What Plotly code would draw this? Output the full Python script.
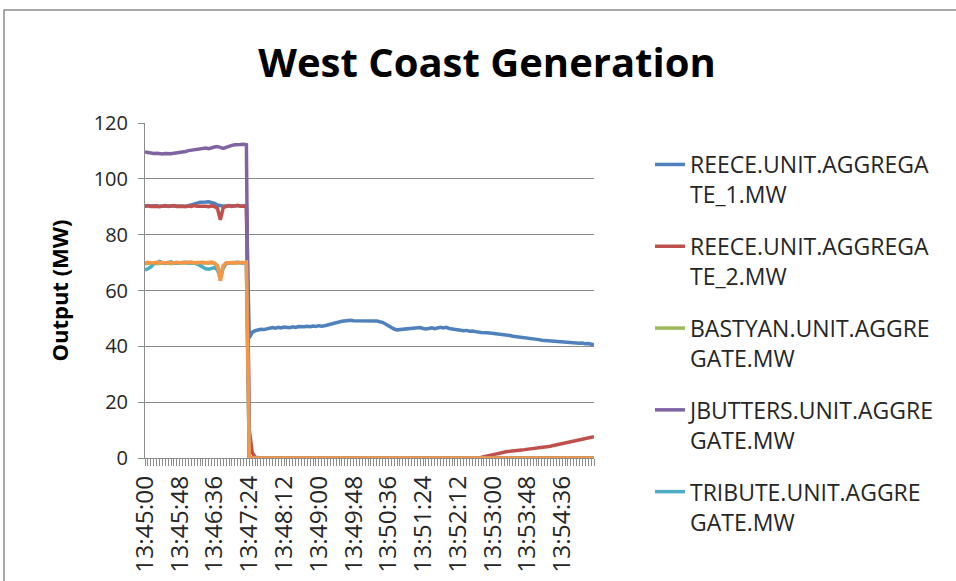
import pandas as pd
import plotly.graph_objects as go

# ---- data (4-second samples from 13:45:00) ----
START = "2013-01-01 13:45:00"
N_POINTS = 156
TIMES = pd.date_range(START, periods=N_POINTS, freq="4s")

TICK_LABELS = ["13:45:00", "13:45:48", "13:46:36", "13:47:24", "13:48:12", "13:49:00",
               "13:49:48", "13:50:36", "13:51:24", "13:52:12", "13:53:00", "13:53:48", "13:54:36"]

REECE_1 = [
    90.3, 90.4, 90.2, 90.3, 90.4, 90.2, 90.3, 90.4, 90.2, 90.3, 90.3, 90.2,
    90.4, 90.3, 90.2, 90.4, 90.6, 90.9, 91.3, 91.6, 91.8, 91.7, 91.8, 91.6,
    91.2, 90.6, 90.3, 90.2, 90.3, 90.4, 90.2, 90.3, 90.4, 90.2, 90.3, 90.4,
    43.0, 45.0, 45.6, 45.9, 46.1, 46.0, 46.4, 46.5, 46.7, 46.5, 46.8, 46.6,
    46.9, 46.7, 46.7, 47.0, 46.8, 47.1, 46.9, 47.0, 47.2, 47.0, 47.3, 47.1,
    47.4, 47.2, 47.4, 47.6, 47.9, 48.2, 48.4, 48.7, 49.0, 49.2, 49.1, 49.3,
    49.2, 49.2, 49.3, 49.1, 49.3, 49.2, 49.2, 49.0, 49.1, 48.8, 48.6, 48.0,
    47.3, 46.8, 46.2, 45.9, 46.0, 46.3, 46.2, 46.5, 46.6, 46.4, 46.7, 46.7,
    46.4, 46.2, 46.4, 46.6, 46.3, 46.5, 46.8, 46.6, 46.8, 46.4, 46.2, 46.0,
    46.1, 45.8, 45.6, 45.7, 45.4, 45.5, 45.2, 45.1, 45.0, 45.1, 44.9, 44.8,
    44.7, 44.6, 44.5, 44.4, 44.2, 44.0, 43.9, 43.6, 43.5, 43.3, 43.2, 43.0,
    42.9, 42.7, 42.6, 42.5, 42.4, 42.2, 42.1, 42.0, 41.9, 41.8, 41.7, 41.6,
    41.5, 41.6, 41.4, 41.5, 41.3, 41.3, 41.1, 41.2, 40.9, 41.0, 40.8, 40.6,
]

REECE_2 = [
    90.2, 90.4, 90.1, 90.3, 90.2, 90.0, 90.3, 90.4, 90.1, 90.2, 90.4, 90.1,
    90.3, 90.2, 90.0, 90.3, 90.1, 90.4, 90.2, 90.3, 90.1, 90.2, 90.0, 90.3,
    90.1, 89.4, 85.3, 89.6, 90.2, 90.4, 90.1, 90.3, 90.5, 90.2, 90.4, 90.3,
    10.0, 2.0, 0.3, 0, 0, 0, 0, 0, 0, 0, 0, 0,
    0, 0, 0, 0, 0, 0, 0, 0, 0, 0, 0, 0,
    0, 0, 0, 0, 0, 0, 0, 0, 0, 0, 0, 0,
    0, 0, 0, 0, 0, 0, 0, 0, 0, 0, 0, 0,
    0, 0, 0, 0, 0, 0, 0, 0, 0, 0, 0, 0,
    0, 0, 0, 0, 0, 0, 0, 0, 0, 0, 0, 0,
    0, 0, 0, 0, 0, 0, 0, 0, 0.2, 0.5, 0.8, 1.0,
    1.2, 1.4, 1.6, 1.9, 2.1, 2.3, 2.4, 2.6, 2.7, 2.8, 2.9, 3.0,
    3.1, 3.2, 3.3, 3.4, 3.5, 3.6, 3.8, 4.0, 4.2, 4.5, 4.7, 4.9,
    5.1, 5.3, 5.5, 5.7, 5.9, 6.2, 6.5, 6.8, 7.0, 7.2, 7.4, 7.6,
]

BASTYAN = [
    69.6, 69.8, 69.7, 69.9, 69.6, 69.8, 69.7, 69.9, 69.8, 69.6, 69.8, 69.7,
    69.8, 69.9, 69.7, 69.8, 69.9, 69.7, 69.8, 69.6, 69.9, 69.7, 69.8, 69.9,
    69.7, 68.8, 65.5, 68.9, 69.8, 69.9, 69.7, 69.8, 69.9, 69.8, 69.7, 69.9,
    0, 0, 0, 0, 0, 0, 0, 0, 0, 0, 0, 0,
    0, 0, 0, 0, 0, 0, 0, 0, 0, 0, 0, 0,
    0, 0, 0, 0, 0, 0, 0, 0, 0, 0, 0, 0,
    0, 0, 0, 0, 0, 0, 0, 0, 0, 0, 0, 0,
    0, 0, 0, 0, 0, 0, 0, 0, 0, 0, 0, 0,
    0, 0, 0, 0, 0, 0, 0, 0, 0, 0, 0, 0,
    0, 0, 0, 0, 0, 0, 0, 0, 0, 0, 0, 0,
    0, 0, 0, 0, 0, 0, 0, 0, 0, 0, 0, 0,
    0, 0, 0, 0, 0, 0, 0, 0, 0, 0, 0, 0,
    0, 0, 0, 0, 0, 0, 0, 0, 0, 0, 0, 0,
]

JBUTTERS = [
    109.6, 109.4, 109.3, 109.1, 109.2, 109.0, 108.9, 109.1, 108.9, 109.0, 109.2, 109.3,
    109.5, 109.4, 109.8, 110.1, 110.3, 110.2, 110.6, 110.8, 110.9, 111.0, 110.8, 111.2,
    111.4, 111.6, 111.2, 110.9, 111.3, 111.8, 112.0, 112.2, 112.1, 112.3, 112.4, 112.2,
    0, 0, 0, 0, 0, 0, 0, 0, 0, 0, 0, 0,
    0, 0, 0, 0, 0, 0, 0, 0, 0, 0, 0, 0,
    0, 0, 0, 0, 0, 0, 0, 0, 0, 0, 0, 0,
    0, 0, 0, 0, 0, 0, 0, 0, 0, 0, 0, 0,
    0, 0, 0, 0, 0, 0, 0, 0, 0, 0, 0, 0,
    0, 0, 0, 0, 0, 0, 0, 0, 0, 0, 0, 0,
    0, 0, 0, 0, 0, 0, 0, 0, 0, 0, 0, 0,
    0, 0, 0, 0, 0, 0, 0, 0, 0, 0, 0, 0,
    0, 0, 0, 0, 0, 0, 0, 0, 0, 0, 0, 0,
    0, 0, 0, 0, 0, 0, 0, 0, 0, 0, 0, 0,
]

TRIBUTE = [
    67.3, 67.7, 68.4, 69.5, 69.8, 70.4, 69.9, 69.7, 70.0, 70.3, 69.8, 69.9,
    70.0, 69.8, 70.1, 69.9, 70.0, 69.8, 69.5, 69.0, 68.2, 67.8, 67.6, 67.8,
    68.2, 67.4, 64.6, 67.9, 69.6, 69.9, 70.0, 69.8, 70.1, 69.9, 70.0, 69.8,
    0, 0, 0, 0, 0, 0, 0, 0, 0, 0, 0, 0,
    0, 0, 0, 0, 0, 0, 0, 0, 0, 0, 0, 0,
    0, 0, 0, 0, 0, 0, 0, 0, 0, 0, 0, 0,
    0, 0, 0, 0, 0, 0, 0, 0, 0, 0, 0, 0,
    0, 0, 0, 0, 0, 0, 0, 0, 0, 0, 0, 0,
    0, 0, 0, 0, 0, 0, 0, 0, 0, 0, 0, 0,
    0, 0, 0, 0, 0, 0, 0, 0, 0, 0, 0, 0,
    0, 0, 0, 0, 0, 0, 0, 0, 0, 0, 0, 0,
    0, 0, 0, 0, 0, 0, 0, 0, 0, 0, 0, 0,
    0, 0, 0, 0, 0, 0, 0, 0, 0, 0, 0, 0,
]

# sixth series (orange) whose legend entry is cut off in the original
SERIES_6 = [
    69.8, 70.1, 69.9, 70.0, 69.8, 70.2, 70.0, 69.9, 70.1, 69.8, 70.0, 70.1,
    69.9, 70.0, 69.8, 70.1, 70.2, 69.9, 70.0, 69.8, 70.1, 69.9, 70.0, 70.2,
    69.8, 68.9, 63.4, 68.8, 69.9, 70.1, 70.0, 69.8, 70.1, 70.0, 69.9, 70.2,
    0, 0, 0, 0, 0, 0, 0, 0, 0, 0, 0, 0,
    0, 0, 0, 0, 0, 0, 0, 0, 0, 0, 0, 0,
    0, 0, 0, 0, 0, 0, 0, 0, 0, 0, 0, 0,
    0, 0, 0, 0, 0, 0, 0, 0, 0, 0, 0, 0,
    0, 0, 0, 0, 0, 0, 0, 0, 0, 0, 0, 0,
    0, 0, 0, 0, 0, 0, 0, 0, 0, 0, 0, 0,
    0, 0, 0, 0, 0, 0, 0, 0, 0, 0, 0, 0,
    0, 0, 0, 0, 0, 0, 0, 0, 0, 0, 0, 0,
    0, 0, 0, 0, 0, 0, 0, 0, 0, 0, 0, 0,
    0, 0, 0, 0, 0, 0, 0, 0, 0, 0, 0, 0,
]

SERIES = [
    ("REECE.UNIT.AGGREGA<br>TE_1.MW", REECE_1, "#4F81BD", True),
    ("REECE.UNIT.AGGREGA<br>TE_2.MW", REECE_2, "#C0504D", True),
    ("BASTYAN.UNIT.AGGRE<br>GATE.MW", BASTYAN, "#9BBB59", True),
    ("JBUTTERS.UNIT.AGGRE<br>GATE.MW", JBUTTERS, "#8064A2", True),
    ("TRIBUTE.UNIT.AGGRE<br>GATE.MW", TRIBUTE, "#4BACC6", True),
    ("Series 6", SERIES_6, "#F79646", False),
]

FONT = "Open Sans"
GRID = "#8C8C8C"

fig = go.Figure()
for i, (name, vals, color, show) in enumerate(SERIES):
    fig.add_trace(go.Scatter(
        x=TIMES, y=vals, mode="lines", name=name,
        line=dict(color=color, width=3.5),
        showlegend=show, legendgroup=f"g{i}",
    ))

tickvals = [f"2013-01-01 {t}" for t in TICK_LABELS]

W, H = 956, 581
ML, MR, MT, MB = 145, 362, 123, 123
PW, PH = W - ML - MR, H - MT - MB

fig.update_layout(
    width=W, height=H,
    margin=dict(l=ML, r=MR, t=MT, b=MB, autoexpand=False),
    paper_bgcolor="white", plot_bgcolor="white",
    font=dict(family=FONT, color="#262626"),
    title=dict(text="<b>West Coast Generation</b>", x=(487 - ML) / PW, xref="paper",
               xanchor="center", y=1 - 63 / H, yanchor="middle",
               font=dict(family=FONT, size=40, color="#000000")),
    xaxis=dict(
        type="date",
        range=[TIMES[0], TIMES[-1]],
        tickvals=tickvals, ticktext=TICK_LABELS,
        tickangle=-90, automargin=False,
        tickfont=dict(family=FONT, size=24.5, color="#262626"),
        showgrid=False, zeroline=False,
        showline=True, linecolor=GRID, linewidth=1,
        ticks="outside", ticklen=7, tickcolor=GRID, tickwidth=1,
        minor=dict(dtick=4000, ticks="outside", ticklen=7, tickcolor=GRID, tickwidth=1, showgrid=False),
    ),
    yaxis=dict(
        range=[0, 120], dtick=20, automargin=False,
        tickfont=dict(family=FONT, size=20, color="#262626"),
        showgrid=True, gridcolor=GRID, gridwidth=1,
        zeroline=False, showline=True, linecolor=GRID, linewidth=1,
        ticks="outside", ticklen=6, tickcolor=GRID,
        ticklabelstandoff=6,
        title=dict(text="<b>Output (MW)</b>", font=dict(family=FONT, size=22, color="#000000"), standoff=18),
    ),
    legend=dict(
        x=(650 - ML) / PW, xanchor="left",
        y=(H - MB - 143) / PH, yanchor="top",
        font=dict(family=FONT, size=23, color="#262626"),
        valign="top", tracegroupgap=19, bgcolor="rgba(0,0,0,0)",
        maxheight=520,
    ),
)

# outer chart border
fig.add_shape(type="rect", xref="paper", yref="paper",
              x0=(4 - ML) / PW, x1=(960 - ML) / PW,
              y0=(H - MB - 590) / PH, y1=(H - MB - 10) / PH,
              line=dict(color="#8C8C8C", width=1.5), fillcolor="rgba(0,0,0,0)", layer="below")

fig.write_html("out.html", config={"displayModeBar": False},
               post_script="document.body.style.margin='0';document.body.style.overflow='hidden';")
